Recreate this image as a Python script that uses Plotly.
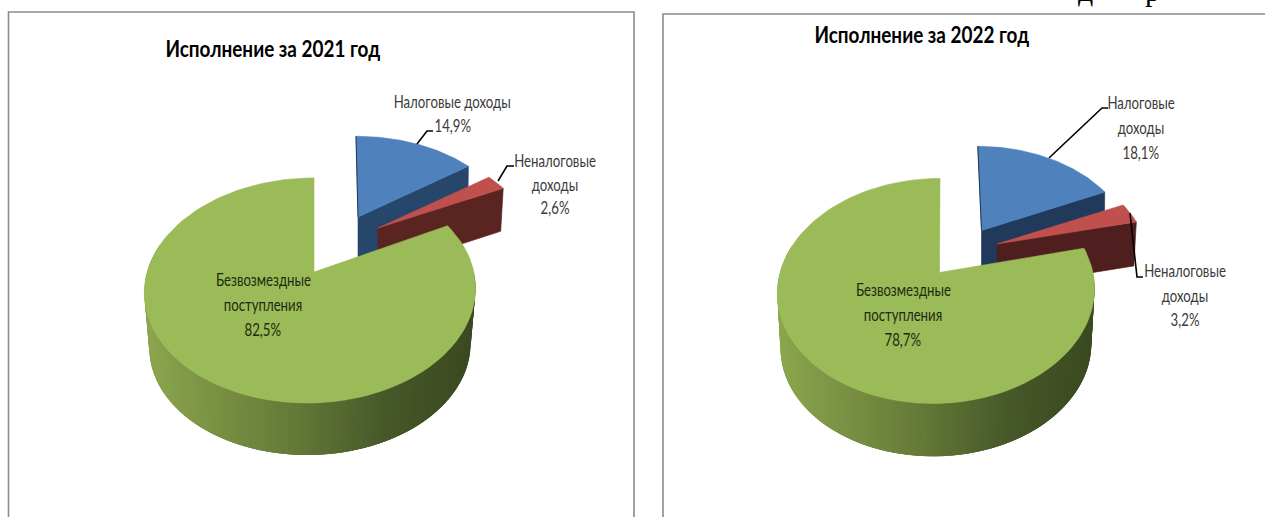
import math
import plotly.graph_objects as go

# ---- data ----
categories = ["Налоговые доходы", "Неналоговые доходы", "Безвозмездные поступления"]
values_2021 = [14.9, 2.6, 82.5]
values_2022 = [18.1, 3.2, 78.7]
titles = ["Исполнение за 2021 год", "Исполнение за 2022 год"]

COL_TOP = ["#4F81BD", "#C0504D", "#9BBB59"]
COL_WALL = [["#27466B", "#5A2421"], ["#213A5C", "#4E1F1E"]]
GRAD = [(0.0, (0x8C, 0xA6, 0x4E)), (0.45, (0x66, 0x7A, 0x38)), (0.75, (0x46, 0x57, 0x28)), (1.0, (0x3B, 0x49, 0x20))]
FONT = "Lato, Roboto, sans-serif"
K = 0.164

# projection settings for each panel (pixel space of the page)
PANELS = [
    dict(values=values_2021,
         green=dict(ax=314, ay=272, cx=310.5, A=109.5, B=163.3, s=3.5, sb=0.97, yb=328),
         blue=dict(ax=358, ay=217, A=94, B=152, s=-2, depth=42),
         red=dict(ax=378, ay=228, A=94, B=151, s=0, depth=43)),
    dict(values=values_2022,
         green=dict(ax=939.5, ay=272.5, cx=936.5, A=109.5, B=156.4, s=3.5, sb=0.98, yb=328),
         blue=dict(ax=981.5, ay=230.5, A=98, B=147, s=-3.7, depth=42),
         red=dict(ax=997, ay=244, A=99.5, B=148.6, s=0, depth=44)),
]


def proj(theta, g):
    t = math.radians(theta)
    X, Y = math.sin(t), math.cos(t)
    den = 1 + K * Y
    base = g.get("cx", g["ax"])
    return base + g["B"] * X / den + g["s"] * Y, g["ay"] - g["A"] * Y / den


def arc(a, b, g, n=120):
    return [proj(a + (b - a) * i / n, g) for i in range(n + 1)]


def grad_color(t):
    for (t0, c0), (t1, c1) in zip(GRAD, GRAD[1:]):
        if t <= t1:
            f = (t - t0) / (t1 - t0)
            return "rgb(%d,%d,%d)" % tuple(round(p + (q - p) * f) for p, q in zip(c0, c1))
    return "rgb(59,73,32)"


fig = go.Figure()


def poly(pts, color, width=0.6, line=None):
    xs = [p[0] for p in pts] + [pts[0][0]]
    ys = [p[1] for p in pts] + [pts[0][1]]
    fig.add_trace(go.Scatter(x=xs, y=ys, mode="lines", fill="toself", fillcolor=color,
                             line=dict(color=line or color, width=width),
                             hoverinfo="skip", showlegend=False))


def stroke(pts, color="#000000", width=1.6):
    fig.add_trace(go.Scatter(x=[p[0] for p in pts], y=[p[1] for p in pts], mode="lines",
                             line=dict(color=color, width=width),
                             hoverinfo="skip", showlegend=False))


for i, P in enumerate(PANELS):
    v = P["values"]
    a1 = 3.6 * v[0]
    a2 = a1 + 3.6 * v[1]

    # blue slice
    g = P["blue"]
    end = proj(a1, g)
    d = g["depth"]
    apex = (g["ax"], g["ay"])
    poly([apex, end, (end[0] - 0.5, end[1] + d), (apex[0], apex[1] + d)], COL_WALL[i][0])
    poly([apex] + arc(0, a1, g, 60), COL_TOP[0])
    top = proj(0, g)
    stroke([top, apex], "#1F3554", 1)

    # red slice
    g = P["red"]
    end = proj(a2, g)
    d = g["depth"]
    apex = (g["ax"], g["ay"])
    poly([apex, end, (end[0] - 2.5, end[1] + d), (apex[0], apex[1] + d)], COL_WALL[i][1])
    poly([apex] + arc(a1, a2, g, 12), COL_TOP[1])

    # green slice: wall strips (overlapping) then top face
    g = P["green"]
    rim = arc(a2, 360, g, 120)
    front = arc(90, 285, g, 110)
    xmin = min(p[0] for p in rim)
    xmax = max(p[0] for p in rim)
    bx = lambda x: g["cx"] + (x - g["cx"]) * g["sb"]
    by = lambda y: g["yb"] + (y - g["ay"]) * g["sb"]
    for j in range(len(front) - 1):
        seg = front[j:j + 4]
        t = min(1, max(0, (seg[0][0] - xmin) / (xmax - xmin)))
        poly(seg + [(bx(p[0]), by(p[1])) for p in reversed(seg)], grad_color(t), 0)
    poly([(g["ax"], g["ay"])] + rim, COL_TOP[2])

# frames
FRAME = "#8C8C8C"
stroke([(8.5, 517), (8.5, 12), (634, 12), (634, 517)], FRAME, 1.6)
stroke([(663, 517), (663, 14), (1265, 14)], FRAME, 1.6)

# leader lines
for pts in [
    [(417, 144), (427, 131), (433, 131)],
    [(498, 181), (507, 166), (514, 166)],
    [(1049, 158), (1102, 108), (1108, 108)],
    [(1130, 213), (1137, 277), (1143, 277)],
]:
    stroke(pts)


def pct(x):
    return f"{x:.1f}%".replace(".", ",")


def label(x, y, text, size=16.5, color="#3A3A3A", bold=False):
    fig.add_annotation(x=x, y=y, text=f"<b>{text}</b>" if bold else text, showarrow=False,
                       xanchor="center", yanchor="middle",
                       font=dict(family=FONT, size=size, color=color))


W1, W2 = categories[0].split(), categories[1].split()
W3 = categories[2].split()

label(273, 48, titles[0], 22.5, "#000000", True)
label(922, 34, titles[1], 22.5, "#000000", True)

label(452, 102, categories[0])
label(453, 126, pct(values_2021[0]))
label(555, 161, W2[0])
label(555, 185, W2[1])
label(555, 208, pct(values_2021[1]))
label(263, 280, W3[0], color="#1E2A10")
label(263, 305, W3[1], color="#1E2A10")
label(263, 330, pct(values_2021[2]), color="#1E2A10")

label(1141, 103, W1[0])
label(1141, 128, W1[1])
label(1141, 153, pct(values_2022[0]))
label(1185, 271, W2[0])
label(1185, 296, W2[1])
label(1185, 320, pct(values_2022[1]))
label(903, 290, W3[0], color="#1E2A10")
label(903, 315, W3[1], color="#1E2A10")
label(903, 340, pct(values_2022[2]), color="#1E2A10")

# cut-off document text at the very top right
fig.add_annotation(x=1085, y=9, text="д", showarrow=False, yanchor="bottom", xanchor="center",
                   font=dict(family="Liberation Serif", size=30, color="#000000"))
fig.add_annotation(x=1152, y=9, text="р", showarrow=False, yanchor="bottom", xanchor="center",
                   font=dict(family="Liberation Serif", size=30, color="#000000"))

fig.update_layout(
    width=1265, height=517, margin=dict(l=0, r=0, t=0, b=0),
    paper_bgcolor="#FFFFFF", plot_bgcolor="#FFFFFF", showlegend=False,
    xaxis=dict(range=[0, 1265], visible=False, fixedrange=True),
    yaxis=dict(range=[517, 0], visible=False, fixedrange=True),
)
post = """
document.body.style.margin='0';document.body.style.overflow='hidden';
document.querySelectorAll('.annotation-text').forEach(function(t){
  var fs=parseFloat(t.style.fontSize);
  var f = fs<20 ? 0.80 : (fs<25 ? 0.84 : 1);
  if(f===1) return;
  t.setAttribute('textLength', (t.getComputedTextLength()*f).toFixed(1));
  t.setAttribute('lengthAdjust','spacingAndGlyphs');
});
"""
fig.write_html("out.html", config={"displayModeBar": False}, post_script=post)
